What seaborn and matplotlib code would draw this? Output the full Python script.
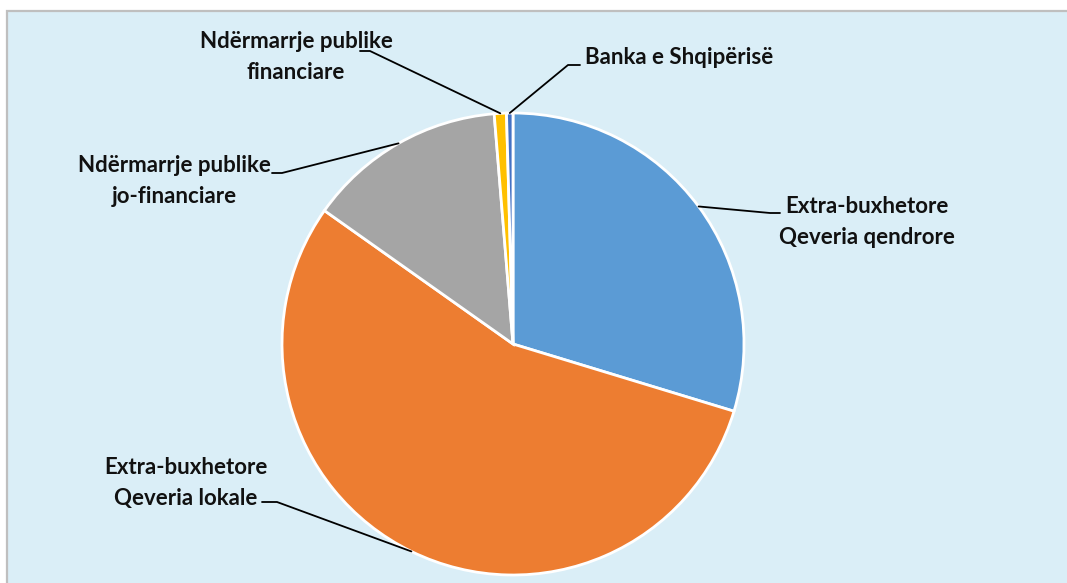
import matplotlib
matplotlib.use("Agg")
import matplotlib.pyplot as plt
from matplotlib.patches import Rectangle
import numpy as np
import seaborn as sns

# Shares of extra-budgetary / public-sector components (%)
categories = [
    "Extra-buxhetore\nQeveria qendrore",
    "Extra-buxhetore\nQeveria lokale",
    "Ndërmarrje publike\njo-financiare",
    "Ndërmarrje publike\nfinanciare",
    "Banka e Shqipërisë",
]
shares = [29.7, 55.1, 13.9, 0.85, 0.45]
colors = ["#5B9BD5", "#ED7D31", "#A5A5A5", "#FFC000", "#4472C4"]

sns.set_theme(style="white")
plt.rcParams["font.family"] = ["Lato", "DejaVu Sans"]

W, H, DPI = 1067, 583, 100
fig = plt.figure(figsize=(W / DPI, H / DPI), dpi=DPI)
fig.patch.set_facecolor("white")

# light blue chart panel with grey frame
fig.patches.append(Rectangle((7 / W, -0.05), 1.2, 1 - 11 / H + 0.05,
                             transform=fig.transFigure, facecolor="#DAEEF7",
                             edgecolor="#BFBFBF", linewidth=1.6, zorder=-10))

# pie centre and radius in pixels
cx, cy, R = 513, 344, 231

def px(x, y):
    return ((x - cx) / R, (cy - y) / R)

ax = fig.add_axes([0, 0, 1, 1])
ax.patch.set_alpha(0)
wedges, _ = ax.pie(shares, colors=colors, startangle=90, counterclock=False,
                   radius=1.0,
                   wedgeprops=dict(edgecolor="white", linewidth=2.0))
ax.set_xlim(-cx / R, (W - cx) / R)
ax.set_ylim(-(H - cy) / R, cy / R)
ax.set_aspect("auto")
ax.axis("off")

def edge_point(w):
    a = np.deg2rad((w.theta1 + w.theta2) / 2)
    return (np.cos(a), np.sin(a))

text_kw = dict(fontsize=16, fontweight="bold", color="#111111",
               linespacing=1.6, zorder=5)
line_kw = dict(color="black", linewidth=1.3, zorder=4)

# label placements: (text anchor px, alignment, leader elbow points in px)
layout = [
    ((867, 222), "center", [(770, 213), (780, 213)]),
    ((186, 483), "center", [(277, 502), (262, 502)]),
    ((174, 181), "center", [(282, 173), (272, 173)]),
    ((296, 57), "center", [(370, 51), (360, 51)]),
    ((585, 58), "left", [(568, 65), (580, 65)]),
]

for w, lab, (tpos, ha, elbows) in zip(wedges, categories, layout):
    p0 = edge_point(w)
    pts = [p0] + [px(*e) for e in elbows]
    xs, ys = zip(*pts)
    ax.plot(xs, ys, **line_kw)
    tx, ty = px(*tpos)
    ax.text(tx, ty, lab, ha=ha, va="center", multialignment="center", **text_kw)

fig.savefig("out.png", dpi=DPI, facecolor="white")
